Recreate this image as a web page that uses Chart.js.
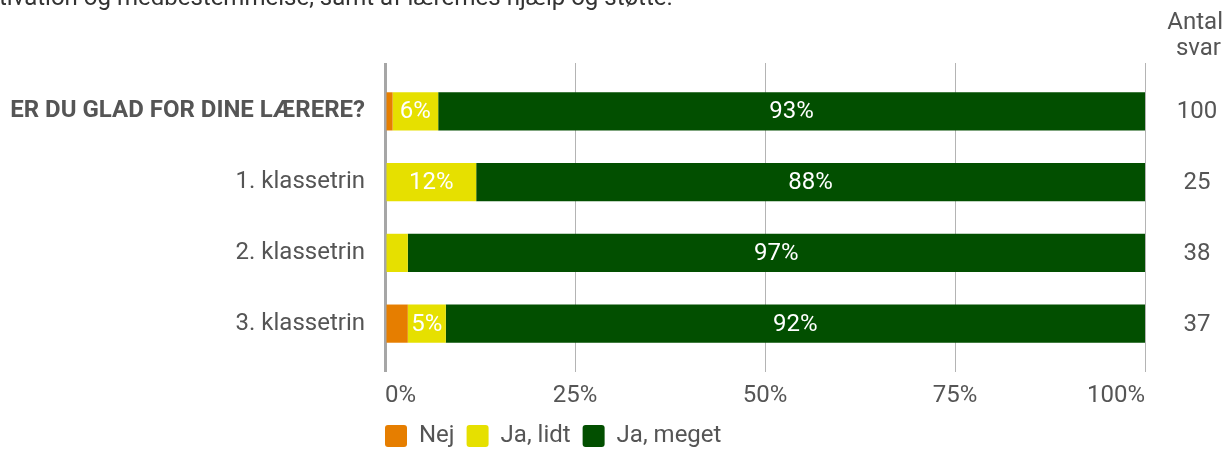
<!DOCTYPE html>
<html>
<head>
<meta charset="utf-8">
<script src="https://cdn.jsdelivr.net/npm/chart.js@4"></script>
<style>
  html, body { margin: 0; padding: 0; background: #fff; }
  #wrap { width: 1228px; height: 449px; }
</style>
</head>
<body>
<div id="wrap"><canvas id="chart"></canvas></div>
<script>
const categories = ['ER DU GLAD FOR DINE LÆRERE?', '1. klassetrin', '2. klassetrin', '3. klassetrin'];
const nej = [1, 0, 0, 3];
const jaLidt = [6, 12, 3, 5];
const jaMeget = [93, 88, 97, 92];
const antalSvar = [100, 25, 38, 37];
const xTicks = ['0%', '25%', '50%', '75%', '100%'];
const topText = 'tivation og medbestemmelse, samt af lærernes hjælp og støtte.';

const FONT = 'Roboto, "Noto Sans", sans-serif';
const TEXT = '#555555';
const GRID = '#b4b4b4';
const SIZE = 24;

Chart.defaults.font.family = FONT;
Chart.defaults.font.size = SIZE;
Chart.defaults.color = TEXT;

// white percentages inside the segments
const barLabels = {
    id: 'barLabels',
    afterDatasetsDraw(chart) {
        const ctx = chart.ctx;
        ctx.save();
        ctx.font = SIZE + 'px ' + FONT;
        ctx.fillStyle = '#ffffff';
        ctx.textAlign = 'center';
        ctx.textBaseline = 'middle';
        chart.data.datasets.forEach((ds, i) => {
            chart.getDatasetMeta(i).data.forEach((bar, j) => {
                const v = ds.data[j];
                if (v < 5) return;
                const p = bar.getCenterPoint();
                ctx.fillText(v + '%', p.x, p.y + 1);
            });
        });
        ctx.restore();
    }
};

// "Antal svar" column, clipped text at the top, legend placement
const extras = {
    id: 'extras',
    afterLayout(chart) {
        const lg = chart.legend;
        if (!lg) return;
        lg.left = chart.chartArea.left - lg.options.labels.padding;
        lg.top += 9;
    },
    afterDraw(chart) {
        const ctx = chart.ctx;
        const y = chart.scales.y;
        ctx.save();
        ctx.font = SIZE + 'px ' + FONT;
        ctx.fillStyle = TEXT;
        ctx.textBaseline = 'middle';
        ctx.textAlign = 'right';
        ctx.fillText('Antal', 1223, 23);
        ctx.fillText('svar', 1221, 49);
        ctx.textAlign = 'center';
        antalSvar.forEach((n, i) => {
            ctx.fillText(String(n), 1197, y.getPixelForValue(i) + 1);
        });
        ctx.fillStyle = '#333333';
        ctx.textAlign = 'left';
        ctx.textBaseline = 'alphabetic';
        ctx.fillText(topText, -1, 5);
        ctx.restore();
    }
};

const zeroLine = c => c.tick && c.tick.value === 0 ? '#a6a6a6' : GRID;
const zeroWidth = c => c.tick && c.tick.value === 0 ? 3 : 1;

new Chart(document.getElementById('chart'), {
    type: 'bar',
    data: {
        labels: categories,
        datasets: [
            { label: 'Nej', data: nej, backgroundColor: '#e67e00' },
            { label: 'Ja, lidt', data: jaLidt, backgroundColor: '#e6e000' },
            { label: 'Ja, meget', data: jaMeget, backgroundColor: '#024f00' }
        ]
    },
    options: {
        indexAxis: 'y',
        responsive: true,
        maintainAspectRatio: false,
        animation: false,
        categoryPercentage: 1,
        barPercentage: 0.54,
        layout: { padding: { top: 63, right: 83, left: 0, bottom: 0 } },
        scales: {
            x: {
                stacked: true,
                min: 0, max: 100,
                ticks: {
                    stepSize: 25,
                    padding: 10,
                    align: 'inner',
                    callback: (v, i) => xTicks[i]
                },
                grid: { color: zeroLine, lineWidth: zeroWidth, tickColor: zeroLine, tickWidth: zeroWidth, tickLength: 13 },
                border: { display: false },
                afterFit: s => { s.height = 44; }
            },
            x2: {
                type: 'linear',
                position: 'top',
                min: 0, max: 100,
                ticks: { stepSize: 25, display: false },
                grid: { drawOnChartArea: false, tickColor: zeroLine, tickWidth: zeroWidth, tickLength: 13 },
                border: { display: false }
            },
            y: {
                stacked: true,
                grid: { display: false },
                border: { display: false },
                ticks: {
                    padding: 12,
                    font: c => c.index === 0 ? { weight: 'bold' } : { weight: 'normal' }
                },
                afterFit: s => { s.width = 385; }
            }
        },
        plugins: {
            legend: {
                position: 'bottom',
                align: 'start',
                fullSize: false,
                labels: {
                    boxWidth: 22,
                    boxHeight: 22,
                    useBorderRadius: true,
                    borderRadius: 3,
                    padding: 12,
                    color: TEXT
                }
            },
            tooltip: { enabled: false }
        }
    },
    plugins: [barLabels, extras]
});
</script>
</body>
</html>
